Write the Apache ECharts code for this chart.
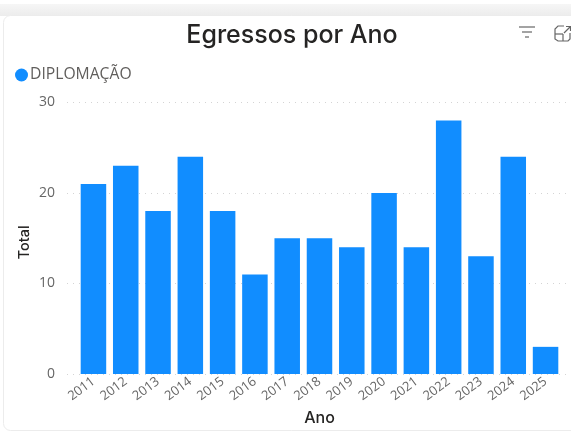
<!DOCTYPE html>
<html><head><meta charset="utf-8">
<style>html,body{margin:0;padding:0;background:#fff}#c{width:571px;height:433px}</style>
<script src="https://cdn.jsdelivr.net/npm/echarts@6/dist/echarts.min.js"></script>
</head><body><div id="c"></div>
<script>
const categories = ['2011','2012','2013','2014','2015','2016','2017','2018','2019','2020','2021','2022','2023','2024','2025'];
const totals = [21,23,18,24,18,11,15,15,14,20,14,28,13,24,3];
const yTicks = {min:0,max:30,interval:10};
const seriesName = 'DIPLOMAÇÃO';
const chart = echarts.init(document.getElementById('c'),null,{renderer:'canvas'});
const ui = '"Open Sans","Noto Sans",sans-serif';
chart.setOption({
  animation:false,
  backgroundColor:'#ffffff',
  title:{text:'Egressos por Ano',left:287,top:18,textAlign:'center',
    textStyle:{fontFamily:'Inter',fontSize:25,fontWeight:500,color:'#252423'}},
  legend:{data:[seriesName],left:10,top:62,icon:'circle',itemWidth:13,itemHeight:13,itemGap:2,
    textStyle:{fontFamily:ui,fontSize:15.7,color:'#605e5c',padding:[0,0,0,-3]}},
  graphic:[
    {type:'rect',z:-10,silent:true,shape:{x:0,y:4,width:571,height:12},
      style:{fill:new echarts.graphic.LinearGradient(0,0,0,1,[{offset:0,color:'#f6f6f6'},{offset:1,color:'#ececec'}])}},
    {type:'rect',z:-9,silent:true,shape:{x:3.5,y:15.5,width:600,height:415,r:7},
      style:{fill:'#fff',stroke:'#ececec',lineWidth:1}},
    {type:'group',silent:true,children:[
      {type:'line',shape:{x1:519,y1:27,x2:535,y2:27},style:{stroke:'#666',lineWidth:1.2}},
      {type:'line',shape:{x1:522,y1:32,x2:532,y2:32},style:{stroke:'#666',lineWidth:1.2}},
      {type:'line',shape:{x1:525,y1:37,x2:529,y2:37},style:{stroke:'#666',lineWidth:1.2}},
      {type:'polyline',shape:{points:[[564,26],[558,26],[555,29],[555,39],[558,41],[568,41],[570,39],[570,33]]},style:{stroke:'#666',fill:'none',lineWidth:1.2}},
      {type:'line',shape:{x1:555,y1:34,x2:563,y2:34},style:{stroke:'#666',lineWidth:1.2}},
      {type:'line',shape:{x1:563,y1:34,x2:563,y2:41},style:{stroke:'#666',lineWidth:1.2}},
      {type:'line',shape:{x1:564,y1:33,x2:570,y2:27},style:{stroke:'#666',lineWidth:1.2}},
      {type:'polyline',shape:{points:[[566,26.5],[570.5,26.5],[570.5,31]]},style:{stroke:'#666',fill:'none',lineWidth:1.2}}
    ]}
  ],
  grid:[
    {left:67,right:4,top:102.5,height:271.5,containLabel:false},
    {left:77.3,width:484.4,top:102.5,height:271.5,containLabel:false}
  ],
  xAxis:[
    {gridIndex:0,type:'value',min:0,max:1,show:false},
    {gridIndex:1,type:'category',data:categories,
      axisLine:{show:false},axisTick:{show:false},
      axisLabel:{rotate:37,interval:0,margin:6,fontFamily:ui,fontSize:13,color:'#666'},
      name:'Ano',nameLocation:'middle',nameGap:30,
      nameTextStyle:{fontFamily:'Inter',fontSize:16,fontWeight:500,color:'#252423'}}
  ],
  yAxis:[
    {gridIndex:0,type:'value',min:yTicks.min,max:yTicks.max,interval:yTicks.interval,
      axisLine:{show:false},axisTick:{show:false},
      axisLabel:{margin:12,fontFamily:ui,fontSize:14,color:'#666'},
      splitLine:{show:true,lineStyle:{type:[1,5],color:'#d4d4d4',width:1}},
      name:'Total',nameLocation:'middle',nameGap:35,nameMoveOverlap:false,
      nameTextStyle:{fontFamily:'Inter',fontSize:14.5,fontWeight:500,color:'#252423',padding:[0,8,0,0]}},
    {gridIndex:1,type:'value',min:yTicks.min,max:yTicks.max,interval:yTicks.interval,show:false,splitLine:{show:false}}
  ],
  series:[{name:seriesName,type:'bar',xAxisIndex:1,yAxisIndex:1,data:totals,
    barCategoryGap:'21%',itemStyle:{color:'#118dff'}}]
});
</script></body></html>
